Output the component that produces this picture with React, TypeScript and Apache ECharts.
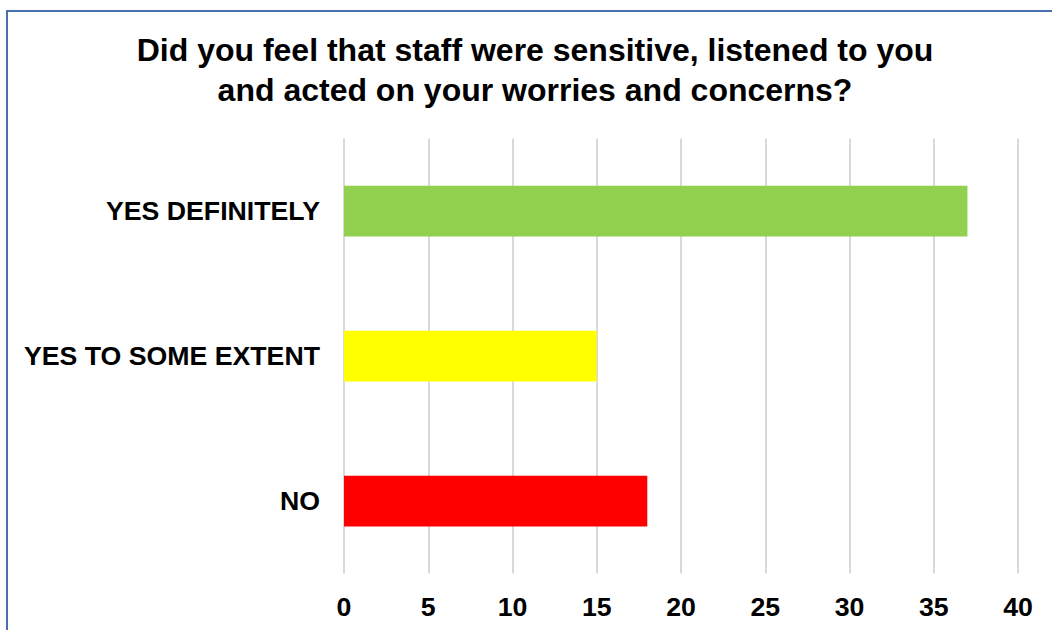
import React, { useEffect, useRef } from "react";
import * as echarts from "echarts";

const categories = ["YES DEFINITELY", "YES TO SOME EXTENT", "NO"];
const values = [37, 15, 18];
const barColors = ["#92d050", "#ffff00", "#ff0000"];
const titleLines = [
  "Did you feel that staff were sensitive, listened to you",
  "and acted on your worries and concerns?",
];

export default function App() {
  const ref = useRef<HTMLDivElement>(null);
  useEffect(() => {
    if (!ref.current) return;
    const chart = echarts.init(ref.current, null, { renderer: "svg" });
    chart.setOption({
      animation: false,
      backgroundColor: "#ffffff",
      title: {
        text: titleLines.join("\n"),
        left: 530,
        textAlign: "center",
        top: 25,
        textStyle: {
          fontFamily: "Liberation Sans, Arial, sans-serif",
          fontSize: 32,
          fontWeight: "bold",
          color: "#000000",
          lineHeight: 40,
        },
      },
      graphic: [
        {
          type: "rect",
          shape: { x: 7, y: 11, width: 1100, height: 700 },
          style: { fill: "none", stroke: "#4a6fae", lineWidth: 2 },
          silent: true,
        },
      ],
      grid: { left: 344, right: 34, top: 138.5, bottom: 56.5 },
      xAxis: {
        type: "value",
        min: 0,
        max: 40,
        interval: 5,
        axisLine: { show: false },
        axisTick: { show: false },
        splitLine: { lineStyle: { color: "#d9d9d9", width: 2 } },
        axisLabel: {
          margin: 20,
          fontFamily: "Liberation Sans, Arial, sans-serif",
          fontSize: 26.7,
          fontWeight: "bold",
          color: "#000000",
        },
      },
      yAxis: {
        type: "category",
        data: categories,
        inverse: true,
        axisLine: { show: false },
        axisTick: { show: false },
        splitLine: { show: false },
        axisLabel: {
          margin: 24,
          fontFamily: "Liberation Sans, Arial, sans-serif",
          fontSize: 26.7,
          fontWeight: "bold",
          color: "#000000",
        },
      },
      series: [
        {
          type: "bar",
          data: values.map((v, i) => ({ value: v, itemStyle: { color: barColors[i] } })),
          barWidth: "35%",
        },
      ],
    });
    return () => chart.dispose();
  }, []);
  return (
    <div
      ref={ref}
      style={{ position: "absolute", left: 0, top: 0, width: 1052, height: 630 }}
    />
  );
}
